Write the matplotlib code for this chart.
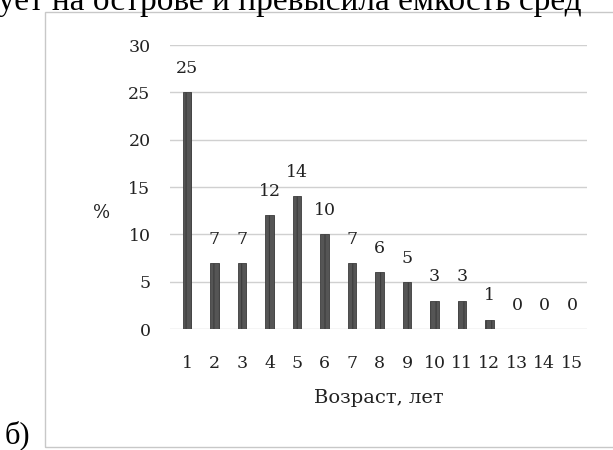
import matplotlib.pyplot as plt
from matplotlib.patches import Rectangle

# данные гистограммы
ages = list(range(1, 16))
percent = [25, 7, 7, 12, 14, 10, 7, 6, 5, 3, 3, 1, 0, 0, 0]
tick_labels = [str(a) for a in ages]
y_ticks = [0, 5, 10, 15, 20, 25, 30]

W, H = 613, 450
fig = plt.figure(figsize=(W / 100, H / 100), dpi=100)
fig.patch.set_facecolor('white')
plt.rcParams['hatch.color'] = '#8c8c8c'
plt.rcParams['hatch.linewidth'] = 0.8

# рамка области диаграммы
fig.patches.append(Rectangle((45 / W, 1 - 447 / H), 600 / W, 435 / H,
                             transform=fig.transFigure, fill=False,
                             edgecolor='#c8c8c8', linewidth=1))

# обрезанная строка текста сверху (как на скане) и подпись "б)"
fig.text(-0.003, 1 - 10 / H, 'ует на острове и превысила емкость сред',
         fontsize=24, family='Liberation Serif', ha='left', va='baseline')
fig.text(5 / W, 1 - 443 / H, 'б)', fontsize=22, family='Liberation Serif',
         ha='left', va='baseline')

ax = fig.add_axes([170 / W, 1 - 329 / H, (587 - 170) / W, (329 - 45) / H])
ax.bar(ages, percent, width=0.32, color='#555555', edgecolor='#3c3c3c',
       hatch='|||', linewidth=0.6, zorder=3)

for a, p in zip(ages, percent):
    ax.text(a, p + 1.6, str(p), ha='center', va='bottom',
            fontsize=12.5, family='DejaVu Serif', color='#222222')

ax.set_xlim(0.38, 15.55)
ax.set_ylim(0, 30)
ax.set_yticks(y_ticks)
ax.set_xticks(ages)
ax.set_xticklabels(tick_labels)
ax.tick_params(length=0, labelsize=12.5, colors='#222222')
ax.tick_params(axis='x', pad=19)
ax.tick_params(axis='y', pad=14)
for lab in ax.get_xticklabels() + ax.get_yticklabels():
    lab.set_family('DejaVu Serif')
ax.grid(axis='y', color='#d0d0d0', linewidth=1, zorder=0)
for s in ax.spines.values():
    s.set_visible(False)

ax.set_xlabel('Возраст, лет', family='DejaVu Serif', fontsize=14, labelpad=12, color='#222222')
fig.text(102 / W, 1 - 213 / H, '%', family='DejaVu Serif', fontsize=13,
         ha='center', va='center', color='#222222')

fig.savefig('out.png', dpi=100)
